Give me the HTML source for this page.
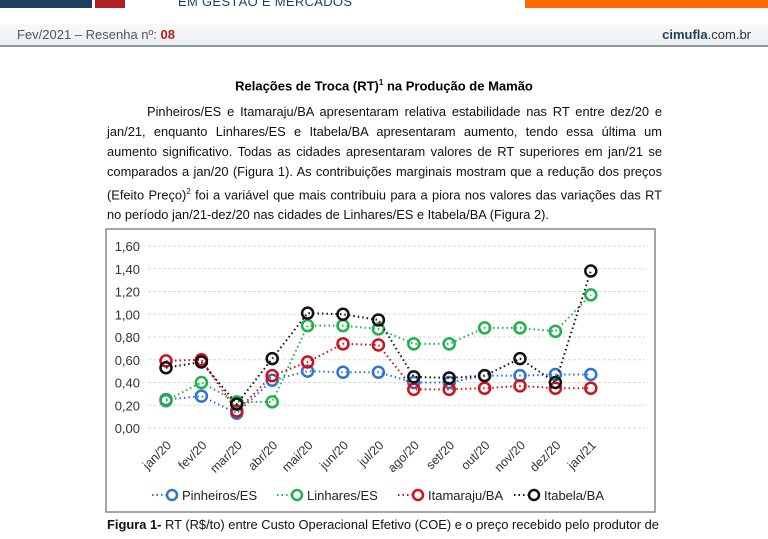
<!DOCTYPE html>
<html><head><meta charset="utf-8"><style>
body{margin:0;width:768px;height:539px;overflow:hidden;background:#fff;font-family:"Liberation Sans",sans-serif;position:relative}
.abs{position:absolute}
p.body{position:absolute;left:107px;top:102px;width:555px;margin:0;font-size:12.85px;line-height:20px;text-align:justify;color:#111;text-indent:40px}
</style></head><body>
<div class="abs" style="left:0;top:0;width:92px;height:8px;background:#1d3f5e"></div>
<div class="abs" style="left:95px;top:0;width:30px;height:8px;background:#b22026"></div>
<div class="abs" style="left:178px;top:-6px;font-size:13px;color:#1d3f5e;letter-spacing:0.3px">EM GESTÃO E MERCADOS</div>
<div class="abs" style="left:525px;top:0;width:243px;height:8px;background:#ff6a00"></div>
<div class="abs" style="left:0;top:24px;width:768px;height:21px;background:linear-gradient(#fafafa,#eee);border-bottom:2px solid #8a9aa8"></div>
<div class="abs" style="left:17px;top:27px;font-size:13px;color:#555">Fev/2021 – Resenha nº: <b style="color:#b22026">08</b></div>
<div class="abs" style="right:17px;top:27px;font-size:13px;color:#333"><b style="color:#1d3f5e">cimufla</b>.com.br</div>
<div class="abs" style="left:0;width:768px;top:78px;text-align:center;font-size:13px;font-weight:bold">Relações de Troca (RT)<sup style="font-size:8px">1</sup> na Produção de Mamão</div>
<p class="body">Pinheiros/ES e Itamaraju/BA apresentaram relativa estabilidade nas RT entre dez/20 e jan/21, enquanto Linhares/ES e Itabela/BA apresentaram aumento, tendo essa última um aumento significativo. Todas as cidades apresentaram valores de RT superiores em jan/21 se comparados a jan/20 (Figura 1). As contribuições marginais mostram que a redução dos preços (Efeito Preço)<sup style="font-size:8px">2</sup> foi a variável que mais contribuiu para a piora nos valores das variações das RT no período jan/21-dez/20 nas cidades de Linhares/ES e Itabela/BA (Figura 2).</p>
<svg class="abs" style="left:0;top:0" width="768" height="539" id="chart">
<rect x="106" y="229" width="549" height="283" fill="#fff" stroke="#888" stroke-width="1.5"/>
</svg>
<div class="abs" style="left:107px;top:517px;font-size:12.9px;color:#111;white-space:nowrap"><b>Figura 1-</b> RT (R$/to) entre Custo Operacional Efetivo (COE) e o preço recebido pelo produtor de</div>
<script>
const categories=["jan/20","fev/20","mar/20","abr/20","mai/20","jun/20","jul/20","ago/20","set/20","out/20","nov/20","dez/20","jan/21"];
const pinheiros=[0.25,0.28,0.13,0.42,0.50,0.49,0.49,0.40,0.40,0.46,0.46,0.47,0.47];
const linhares=[0.24,0.40,0.23,0.23,0.90,0.90,0.87,0.74,0.74,0.88,0.88,0.85,1.17];
const itamaraju=[0.59,0.60,0.15,0.46,0.58,0.74,0.73,0.34,0.34,0.35,0.37,0.35,0.35];
const itabela=[0.53,0.58,0.21,0.61,1.01,1.00,0.95,0.45,0.44,0.46,0.61,0.40,1.38];
const yTicks=[0,0.2,0.4,0.6,0.8,1.0,1.2,1.4,1.6];
const seriesNames=["Pinheiros/ES","Linhares/ES","Itamaraju/BA","Itabela/BA"];
const NS="http://www.w3.org/2000/svg";
const svg=document.getElementById('chart');
const y=v=>428-v*113.75;
const x=i=>166+i*35.4;
function mk(t,a,p){const e=document.createElementNS(NS,t);for(const k in a)e.setAttribute(k,a[k]);(p||svg).appendChild(e);return e;}
yTicks.forEach(v=>{
  const g=mk('line',{x1:148,x2:645,y1:y(v),y2:y(v),stroke:'#d9d9d9','stroke-dasharray':'3,2'});
  
  
  const t=mk('text',{x:140,y:y(v)+5,'text-anchor':'end','font-size':'13','fill':'#333'});
  t.textContent=v.toFixed(2).replace('.',',');
  
  
});
categories.forEach((c,i)=>{
  const t=mk('text',{x:x(i)+6,y:446,'text-anchor':'end','font-size':'12.5','fill':'#333',transform:`rotate(-45 ${x(i)+6} 446)`});
  t.textContent=c;
  
  
});
const colors=['#2e75d0','#1fb14a','#d0111b','#111111'];
[pinheiros,linhares,itamaraju,itabela].forEach((s,k)=>{
  const pl=mk('polyline',{points:s.map((v,i)=>x(i)+','+y(v)).join(' '),fill:'none',stroke:colors[k],'stroke-width':2,'stroke-dasharray':'1.5,3'});
  
  
  s.forEach((v,i)=>{
    const c=mk('circle',{cx:x(i),cy:y(v),r:5.5,fill:'none',stroke:colors[k],'stroke-width':2.5});
    
    
  });
  const lx=[152,277,398,514][k];
  const ll=mk('line',{x1:lx,x2:lx+26,y1:495,y2:495,stroke:colors[k],'stroke-width':2,'stroke-dasharray':'1.5,3'});
  
  
  const lc=mk('circle',{cx:lx+20,cy:495,r:5,fill:'#fff',stroke:colors[k],'stroke-width':2.5});
  
  
  const lt=mk('text',{x:lx+30,y:500,'font-size':'13','fill':'#222'});
  lt.textContent=seriesNames[k];
  
  
});
</script>
</body></html>
